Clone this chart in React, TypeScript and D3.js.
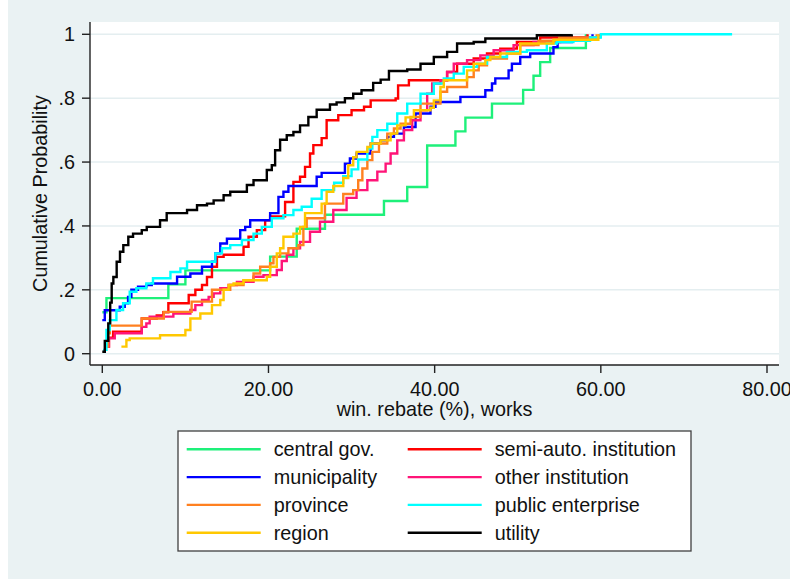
import * as d3 from 'd3';

const centralGov: [number, number][] = [
  [0, 0.13], [0.5, 0.174], [7.95, 0.217], [10, 0.261], [20.2, 0.304], [23.4, 0.391],
  [26.8, 0.435], [33.9, 0.478], [36.7, 0.522], [39.1, 0.652], [42.5, 0.696], [43.7, 0.739],
  [46.9, 0.783], [50.65, 0.826], [51.9, 0.87], [52.7, 0.913], [53.9, 0.957], [58.2, 1],
];

const semiAuto: [number, number][] = [
  [0.5, 0.022], [0.8, 0.05], [1.3, 0.069], [4.75, 0.11], [6.55, 0.12], [7.35, 0.13],
  [7.95, 0.158], [10.4, 0.184], [11.2, 0.2], [12, 0.215], [12.6, 0.24], [13.2, 0.272],
  [13.8, 0.303], [14.6, 0.31], [17, 0.335], [17.6, 0.366], [18.6, 0.387], [19.6, 0.418],
  [20.2, 0.43], [22, 0.475], [23, 0.538], [23.8, 0.554], [24.4, 0.585], [25, 0.627],
  [25.4, 0.653], [26.4, 0.675], [27, 0.731], [28.4, 0.747], [30, 0.762], [31.5, 0.773],
  [32.3, 0.793], [35.3, 0.799], [35.6, 0.84], [36.9, 0.856], [41.5, 0.882], [42.7, 0.908],
  [44.7, 0.924], [46.3, 0.94], [47.9, 0.955], [49.9, 0.976], [52.7, 0.99], [58.4, 1],
];

const municipality: [number, number][] = [
  [0, 0.105], [0.3, 0.136], [2.1, 0.147], [2.7, 0.158], [3.1, 0.178], [3.5, 0.2],
  [4.3, 0.21], [5.3, 0.215], [5.95, 0.22], [9, 0.241], [10.6, 0.251], [12, 0.272],
  [13.2, 0.288], [13.6, 0.314], [14.2, 0.345], [15, 0.36], [16.6, 0.387], [17.2, 0.397],
  [17.8, 0.418], [20.2, 0.44], [21.2, 0.491], [21.8, 0.507], [22.4, 0.525], [25.8, 0.554],
  [26.4, 0.566], [29.2, 0.595], [29.8, 0.611], [30.6, 0.627], [32.3, 0.658], [33.5, 0.668],
  [34.3, 0.679], [35.1, 0.689], [36.3, 0.71], [37.7, 0.752], [39.5, 0.773], [40.1, 0.788],
  [43.1, 0.804], [46.1, 0.825], [46.9, 0.846], [47.3, 0.862], [48.9, 0.887], [49.3, 0.908],
  [50.3, 0.929], [51.5, 0.94], [54.3, 0.96], [54.8, 0.976], [56.5, 0.99], [59, 1],
];

const otherInst: [number, number][] = [
  [0.5, 0.022], [0.8, 0.048], [1.5, 0.064], [4.75, 0.084], [5.3, 0.095], [5.7, 0.116],
  [8.55, 0.126], [10.6, 0.137], [11.2, 0.152], [12, 0.168], [12.8, 0.178], [13.4, 0.189],
  [14.2, 0.205], [15.2, 0.215], [16.2, 0.225], [18.2, 0.241], [19.4, 0.246], [21, 0.262],
  [21.6, 0.29], [22.2, 0.31], [23, 0.33], [23.8, 0.35], [25, 0.382], [26.2, 0.413],
  [27.8, 0.45], [29.4, 0.488], [30.6, 0.512], [31.9, 0.543], [33.1, 0.57], [34.1, 0.595],
  [34.7, 0.627], [35.5, 0.668], [36.3, 0.7], [37.3, 0.731], [38.3, 0.762], [39.1, 0.814],
  [39.7, 0.846], [40.7, 0.856], [41.5, 0.882], [42.3, 0.908], [43.9, 0.919], [45.5, 0.934],
  [47.1, 0.95], [49.5, 0.966], [51.9, 0.976], [55.1, 0.99], [59.8, 1],
];

const province: [number, number][] = [
  [0.5, 0.022], [0.7, 0.064], [0.9, 0.088], [4.75, 0.11], [7.4, 0.131], [10.75, 0.163],
  [13.2, 0.2], [15.4, 0.215], [17, 0.23], [18.2, 0.251], [19, 0.272], [20.2, 0.283],
  [20.6, 0.303], [21.4, 0.314], [22.4, 0.33], [23.6, 0.34], [24.2, 0.397], [24.6, 0.424],
  [26.8, 0.47], [29, 0.5], [30.2, 0.512], [30.8, 0.543], [31.3, 0.58], [31.9, 0.606],
  [32.5, 0.632], [33.3, 0.658], [34.3, 0.689], [35.1, 0.705], [35.9, 0.72], [37.1, 0.741],
  [38.3, 0.783], [40.7, 0.82], [41.5, 0.835], [43.9, 0.866], [44.7, 0.887], [45.3, 0.903],
  [46.3, 0.924], [48.7, 0.94], [50.3, 0.966], [52.5, 0.98], [55, 0.99], [59.5, 1],
];

const publicEnt: [number, number][] = [
  [0.1, 0.012], [0.5, 0.074], [0.9, 0.105], [1.7, 0.137], [2.5, 0.158], [3.3, 0.194],
  [4.1, 0.205], [5.3, 0.22], [6.1, 0.236], [8.2, 0.256], [9.4, 0.267], [10.2, 0.288],
  [13.6, 0.314], [14.4, 0.33], [15.4, 0.34], [16.8, 0.356], [18.2, 0.376], [19.2, 0.397],
  [20.4, 0.424], [21.8, 0.434], [23, 0.45], [24, 0.46], [25.2, 0.485], [26.4, 0.512],
  [27.9, 0.535], [29, 0.556], [30, 0.577], [30.8, 0.608], [31.9, 0.642], [32.5, 0.679],
  [33.1, 0.7], [34.3, 0.72], [35.5, 0.752], [36.7, 0.783], [38.3, 0.814], [39.9, 0.846],
  [41.1, 0.862], [42.3, 0.877], [43.5, 0.898], [45.1, 0.908], [46.3, 0.929], [48.7, 0.945],
  [51.1, 0.95], [53.5, 0.971], [54.7, 0.976], [56.7, 0.98], [58.7, 0.99], [60, 1], [75.8, 1],
];

const region: [number, number][] = [
  [2.3, 0.022], [2.9, 0.043], [3.3, 0.048], [6.95, 0.058], [10, 0.074], [10.6, 0.11],
  [11.8, 0.126], [13.2, 0.152], [14.2, 0.168], [14.6, 0.2], [15.2, 0.215], [15.8, 0.22],
  [17, 0.23], [19.8, 0.241], [20.2, 0.272], [21, 0.314], [21.4, 0.33], [21.8, 0.366],
  [23, 0.376], [23.8, 0.397], [24.4, 0.44], [26.4, 0.47], [27, 0.507], [27.8, 0.525],
  [29, 0.55], [29.6, 0.59], [30.2, 0.615], [30.6, 0.632], [31.9, 0.647], [32.3, 0.658],
  [33.5, 0.668], [34.7, 0.689], [35.5, 0.715], [36.5, 0.74], [37.5, 0.762], [39.5, 0.77],
  [39.9, 0.793], [40.7, 0.835], [41.1, 0.856], [43.9, 0.887], [44.7, 0.908], [46.1, 0.919],
  [46.7, 0.929], [47.9, 0.94], [50.3, 0.971], [54.3, 0.983], [59.7, 1],
];

const utility: [number, number][] = [
  [0, 0.006], [0.3, 0.04], [0.72, 0.095], [0.95, 0.16], [1.13, 0.22], [1.33, 0.24],
  [1.73, 0.288], [2.13, 0.319], [2.53, 0.34], [3.13, 0.366], [3.7, 0.376], [4.75, 0.387],
  [5.35, 0.397], [6.95, 0.418], [7.75, 0.44], [10.2, 0.45], [11.4, 0.465], [12.6, 0.47],
  [13.4, 0.48], [14.6, 0.496], [15.4, 0.507], [17.4, 0.528], [18.2, 0.543], [19.8, 0.575],
  [20.4, 0.59], [20.8, 0.637], [21.4, 0.67], [22.2, 0.684], [23, 0.694], [23.8, 0.715],
  [24.8, 0.741], [25.8, 0.764], [27.4, 0.78], [28.2, 0.787], [29.2, 0.8], [30.2, 0.814],
  [31.2, 0.825], [32.6, 0.848], [33.5, 0.858], [34.5, 0.885], [36.7, 0.89], [38.3, 0.908],
  [39.9, 0.929], [41.5, 0.945], [42.7, 0.971], [44.7, 0.976], [46.1, 0.987], [52.3, 0.997],
  [56.5, 1],
];

// legend order is row by row, two columns
const seriesNames = [
  'central gov.', 'semi-auto. institution', 'municipality', 'other institution',
  'province', 'public enterprise', 'region', 'utility',
];
const seriesColors = [
  '#1ef07a', '#ff0000', '#0000ff', '#ff1478', '#ff8020', '#00ffff', '#ffc800', '#000000',
];
const seriesData = [centralGov, semiAuto, municipality, otherInst, province, publicEnt, region, utility];

const xTicks = [0, 20, 40, 60, 80];
const xTickLabels = ['0.00', '20.00', '40.00', '60.00', '80.00'];
const yTicks = [0, 0.2, 0.4, 0.6, 0.8, 1];
const yTickLabels = ['0', '.2', '.4', '.6', '.8', '1'];

const W = 790;
const H = 579;
const FONT = '"Liberation Sans", Arial, sans-serif';
const BG = '#eaf2f3';
const FS = 19.8;

export default function App() {
  // plot region
  const pl = 90, pr = 779, pt = 22, pb = 365;
  const x = d3.scaleLinear().domain([0, 80]).range([102.3, 767]);
  const y = d3.scaleLinear().domain([0, 1]).range([353.7, 34.3]);

  const line = d3
    .line<[number, number]>()
    .x((d) => x(d[0]))
    .y((d) => y(d[1]))
    .curve(d3.curveStepAfter);

  // legend box
  const lgX = 178, lgY = 431, lgW = 513, lgH = 120;
  const rowY = (i: number) => 449.3 + i * 27.8;
  const colX = [186.7, 407.7];

  return (
    <svg
      width={W}
      height={H}
      style={{ position: 'absolute', left: 0, top: 0, display: 'block' }}
      fontFamily={FONT}
    >
      <rect x={0} y={0} width={W} height={H} fill="#ffffff" />
      <rect x={8} y={0} width={W - 8} height={H} fill={BG} />
      <rect x={pl} y={pt} width={pr - pl} height={pb - pt} fill="#ffffff" />

      {yTicks.map((t) => (
        <line key={'g' + t} x1={pl} x2={pr} y1={y(t)} y2={y(t)} stroke="#e4eef0" strokeWidth={1.6} />
      ))}

      {seriesData.map((d, i) => (
        <path
          key={seriesNames[i]}
          d={line(d) || ''}
          fill="none"
          stroke={seriesColors[i]}
          strokeWidth={2.4}
          strokeLinejoin="miter"
        />
      ))}

      {/* axes */}
      <line x1={pl} x2={pl} y1={pt} y2={pb} stroke="#222" strokeWidth={1.4} />
      <line x1={pl} x2={pr} y1={pb} y2={pb} stroke="#222" strokeWidth={1.4} />

      {yTicks.map((t, i) => (
        <g key={'y' + t}>
          <line x1={pl - 8} x2={pl} y1={y(t)} y2={y(t)} stroke="#222" strokeWidth={1.4} />
          <text x={75} y={y(t) + 7} textAnchor="end" fontSize={FS} fill="#111">
            {yTickLabels[i]}
          </text>
        </g>
      ))}

      {xTicks.map((t, i) => (
        <g key={'x' + t}>
          <line x1={x(t)} x2={x(t)} y1={pb} y2={pb + 8} stroke="#222" strokeWidth={1.4} />
          <text x={x(t)} y={396} textAnchor="middle" fontSize={FS} fill="#111">
            {xTickLabels[i]}
          </text>
        </g>
      ))}

      <text x={(pl + pr) / 2} y={416} textAnchor="middle" fontSize={FS} fill="#111">
        win. rebate (%), works
      </text>
      <text
        transform={`translate(46.5,${(pt + pb) / 2}) rotate(-90)`}
        textAnchor="middle"
        fontSize={FS}
        fill="#111"
      >
        Cumulative Probability
      </text>

      {/* legend */}
      <rect x={lgX} y={lgY} width={lgW} height={lgH} fill="#ffffff" stroke="#404040" strokeWidth={1.3} />
      {seriesNames.map((name, i) => {
        const cx = colX[i % 2];
        const cy = rowY(Math.floor(i / 2));
        return (
          <g key={'lg' + name}>
            <line x1={cx} x2={cx + 74} y1={cy} y2={cy} stroke={seriesColors[i]} strokeWidth={2.4} />
            <text x={cx + 87} y={cy + 7} fontSize={FS} fill="#111">
              {name}
            </text>
          </g>
        );
      })}
    </svg>
  );
}
